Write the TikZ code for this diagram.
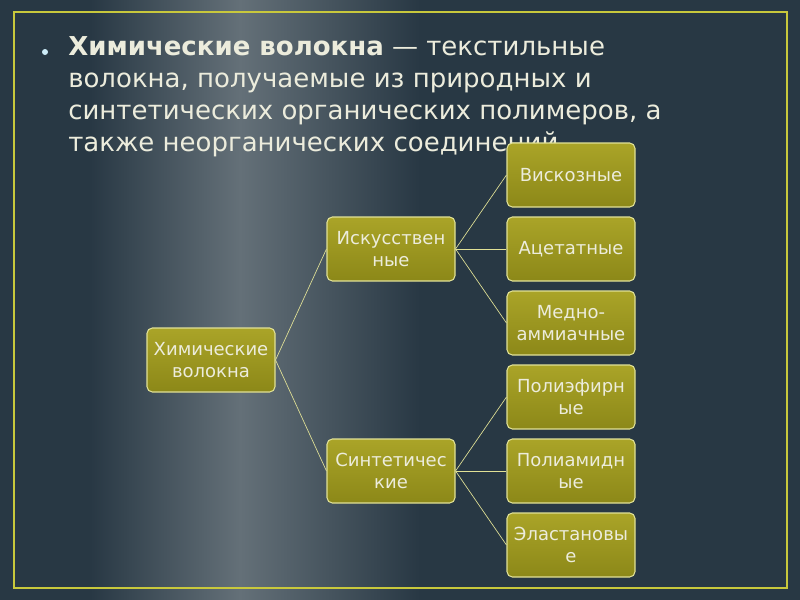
\documentclass[tikz,border=0pt]{standalone}
\usepackage{fontspec}
\setmainfont{DejaVu Sans}
\definecolor{bgd}{RGB}{40,56,68}
\definecolor{bgl}{RGB}{100,112,120}
\definecolor{boxt}{RGB}{170,164,40}
\definecolor{boxb}{RGB}{140,136,24}
\definecolor{boxe}{RGB}{225,225,150}
\definecolor{frame}{RGB}{200,200,60}
\definecolor{txt}{RGB}{236,236,220}
\begin{document}
\begin{tikzpicture}[x=0.75pt,y=-0.75pt,
  box/.style={draw=boxe, line width=0.8pt, rounded corners=4pt, top color=boxt, bottom color=boxb, minimum width=96pt, minimum height=48pt, inner sep=1pt, text=txt, align=center, font=\fontsize{13.5}{17}\selectfont},
  conn/.style={draw=boxe, line width=0.5pt}]
\useasboundingbox (0,0) rectangle (800,600);
\fill[bgd] (0,0) rectangle (800,600);
\fill[left color=bgd, right color=bgl] (90,0) rectangle (240,600);
\fill[left color=bgl, right color=bgd] (240,0) rectangle (420,600);
\draw[frame, line width=1.5pt] (14,12) rectangle (787,588);
\fill[black!10!cyan!20!white] (45,52) circle (3);
\node[anchor=north west, text=txt, align=left, font=\fontsize{19.5}{24}\selectfont, inner sep=0] (title) at (68,36)
 {\textbf{Химические волокна} — текстильные\\волокна, получаемые из природных и\\синтетических органических полимеров, а\\также неорганических соединений.};
\node[box] (root) at (211,360) {Химические\\волокна};
\node[box] (a) at (391,249) {Искусствен\\ные};
\node[box] (s) at (391,471) {Синтетичес\\кие};
\node[box] (a1) at (571,175) {Вискозные};
\node[box] (a2) at (571,249) {Ацетатные};
\node[box] (a3) at (571,323) {Медно-\\аммиачные};
\node[box] (s1) at (571,397) {Полиэфирн\\ые};
\node[box] (s2) at (571,471) {Полиамидн\\ые};
\node[box] (s3) at (571,545) {Эластановы\\е};
\foreach \p/\c in {root/a,root/s,a/a1,a/a2,a/a3,s/s1,s/s2,s/s3}
  \draw[conn] (\p.east) -- (\c.west);
\end{tikzpicture}
\end{document}
